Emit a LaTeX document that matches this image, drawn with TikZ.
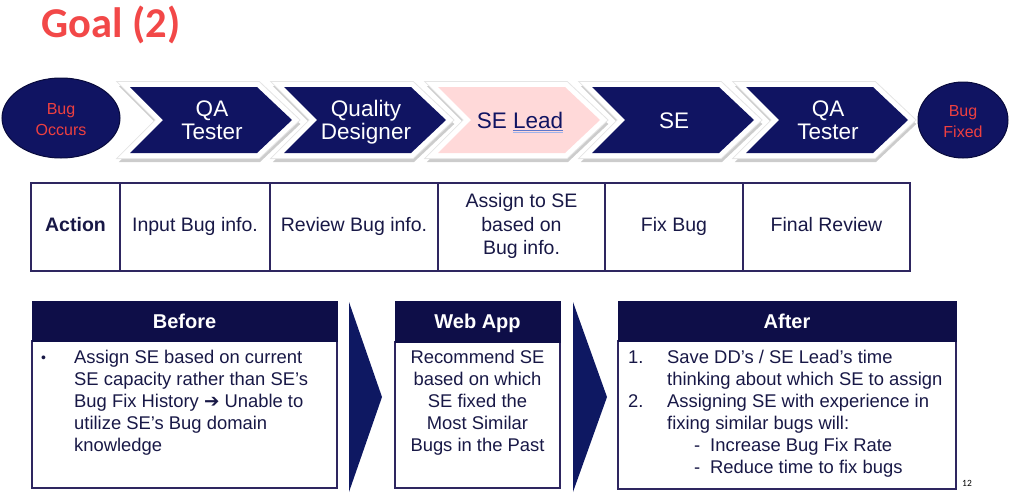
\documentclass[tikz,border=0pt]{standalone}
\usepackage{fontspec}
\setmainfont{Liberation Sans}
\newfontfamily\titlefont{Carlito}
\newfontfamily\symfont{DejaVu Sans}
\usetikzlibrary{shapes.geometric}

\definecolor{chevnavy}{RGB}{16,20,98}
\definecolor{headnavy}{RGB}{14,14,72}
\definecolor{arrownavy}{RGB}{14,24,98}
\definecolor{rimnavy}{RGB}{8,10,60}
\definecolor{pinkfill}{RGB}{255,217,217}
\definecolor{titlered}{RGB}{242,72,72}
\definecolor{labelred}{RGB}{238,64,64}
\definecolor{inknavy}{RGB}{24,24,70}
\definecolor{framepurple}{RGB}{46,38,96}
\definecolor{squiggle}{RGB}{96,120,204}
\definecolor{squigglelight}{RGB}{160,180,235}

% double underline drawn under a word
\newcommand\markedword[1]{\setbox0\hbox{#1}%
  \rlap{\raisebox{-3pt}{\color{squiggle}\rule{\wd0}{1pt}}}%
  \rlap{\raisebox{-5pt}{\color{squigglelight}\rule{\wd0}{1pt}}}#1}

% chevron outline with its top-left corner at x = #1
\newcommand\chevpath[1]{(#1,87) -- ++(127,0) -- ++(35,33) -- ++(-35,33) -- ++(-127,0) -- ++(33,-33) -- cycle}

\tikzset{
  chevtext/.style={anchor=base, inner sep=0pt, text=white, font=\fontsize{22.5}{24}\selectfont},
  endlabel/.style={anchor=base, inner sep=0pt, text=labelred, font=\fontsize{16}{19}\selectfont},
  endcap/.style={ellipse, draw=rimnavy, line width=1pt, fill=chevnavy, inner sep=0pt},
  celltext/.style={anchor=base, inner sep=0pt, text=inknavy, font=\fontsize{19.5}{23}\selectfont},
  headtext/.style={anchor=base, inner sep=0pt, text=white, font=\bfseries\fontsize{20}{24}\selectfont},
  bodyline/.style={anchor=base west, inner sep=0pt, text=inknavy, font=\fontsize{18.4}{22}\selectfont},
  bodycentre/.style={anchor=base, inner sep=0pt, text=inknavy, font=\fontsize{18.4}{22}\selectfont},
  frame/.style={draw=framepurple, line width=1.4pt},
  headbar/.style={fill=headnavy, draw=headnavy, line width=1pt},
}

\begin{document}
\begin{tikzpicture}[x=1pt,y=-1pt]
\useasboundingbox (0,0) rectangle (1012,493);

% title
\node[anchor=base west, inner sep=0pt, text=titlered, font=\titlefont\bfseries\fontsize{42.5}{46}\selectfont] (title) at (41,37) {Goal (2)};

% process chevrons: soft shadow, white rim, fill
\foreach \s in {130,284,438,592,746} {
  \draw[black!20, fill=black!20, line width=10pt, line join=miter, shift={(1,4)}] \chevpath{\s};
}
\foreach \s/\c in {130/chevnavy,284/chevnavy,438/pinkfill,592/chevnavy,746/chevnavy} {
  \fill[\c, preaction={draw=black!10, line width=12pt, line join=miter},
        preaction={draw=white, line width=10pt, line join=miter}] \chevpath{\s};
}

\node[chevtext] (qa1a) at (212,116) {QA};
\node[chevtext] (qa1b) at (212,139) {Tester};
\node[chevtext] (qd1a) at (366,116) {Quality};
\node[chevtext] (qd1b) at (366,139) {Designer};
\node[chevtext, text=chevnavy] (lead) at (520,128) {SE \markedword{Lead}};
\node[chevtext] (se) at (674,128) {SE};
\node[chevtext] (qa2a) at (828,116) {QA};
\node[chevtext] (qa2b) at (828,139) {Tester};

% start and end ovals
\node[endcap, minimum width=118pt, minimum height=80pt] (occurs) at (61,118) {};
\node[endlabel] (occursa) at (61,114) {Bug};
\node[endlabel] (occursb) at (61,135) {Occurs};
\node[endcap, minimum width=90pt, minimum height=76pt] (fixed) at (963,120) {};
\node[endlabel] (fixeda) at (963,116) {Bug};
\node[endlabel] (fixedb) at (963,137) {Fixed};

% action table
\draw[frame] (31,183) rectangle (910,271);
\foreach \x in {120,270,438,605,743} \draw[frame] (\x,183) -- (\x,271);
\node[celltext, font=\bfseries\fontsize{19.5}{23}\selectfont] (action) at (75.5,231) {Action};
\node[celltext] (input) at (195,231) {Input Bug info.};
\node[celltext] (review) at (354,231) {Review Bug info.};
\node[celltext] (assigna) at (521.5,207) {Assign to SE};
\node[celltext] (assignb) at (521.5,231) {based on};
\node[celltext] (assignc) at (521.5,254) {Bug info.};
\node[celltext] (fix) at (674,231) {Fix Bug};
\node[celltext] (final) at (826.5,231) {Final Review};

% before box
\draw[frame] (32,341) rectangle (337,488);
\draw[headbar] (32,301) rectangle (337,341);
\node[headtext] (before) at (184.5,328) {Before};
\node[bodyline, font=\fontsize{14}{22}\selectfont] (bullet) at (41,362) {•};
\foreach \t [count=\i] in {Assign SE based on current,
    SE capacity rather than SE’s,
    Bug Fix History {\symfont\bfseries ➔} Unable to,
    utilize SE’s Bug domain,
    knowledge}
  \node[bodyline] (before\i) at (74,340.8+22.2*\i) {\t};

% arrows between boxes
\fill[arrownavy] (349,302) -- (382,397) -- (349,492) -- cycle;
\fill[arrownavy] (573,302) -- (607,397) -- (573,492) -- cycle;

% web app box
\draw[frame] (395,342) rectangle (560,488);
\draw[headbar] (395,301) rectangle (560,342);
\node[headtext] (webapp) at (477.5,328) {Web App};
\foreach \t [count=\i] in {Recommend SE, based on which, SE fixed the, Most Similar, Bugs in the Past}
  \node[bodycentre] (web\i) at (477.5,340.8+22.2*\i) {\t};

% after box
\draw[frame] (618,341) rectangle (956,489);
\draw[headbar] (618,301) rectangle (956,341);
\node[headtext] (after) at (787,328) {After};
\node[bodyline] (num1) at (628,363) {1.};
\node[bodyline] (num2) at (628,407) {2.};
\node[bodyline] (after1) at (667,363) {Save DD’s / SE Lead’s time};
\node[bodyline] (after2) at (667,385) {thinking about which SE to assign};
\node[bodyline] (after3) at (667,407) {Assigning SE with experience in};
\node[bodyline] (after4) at (667,429) {fixing similar bugs will:};
\node[bodyline] (dash1) at (694,451) {-};
\node[bodyline] (after5) at (710,451) {Increase Bug Fix Rate};
\node[bodyline] (dash2) at (694,473) {-};
\node[bodyline] (after6) at (710,473) {Reduce time to fix bugs};

% page number
\node[anchor=base, inner sep=0pt, font=\titlefont\fontsize{9.5}{11}\selectfont] (page) at (967,486) {12};
\end{tikzpicture}
\end{document}
